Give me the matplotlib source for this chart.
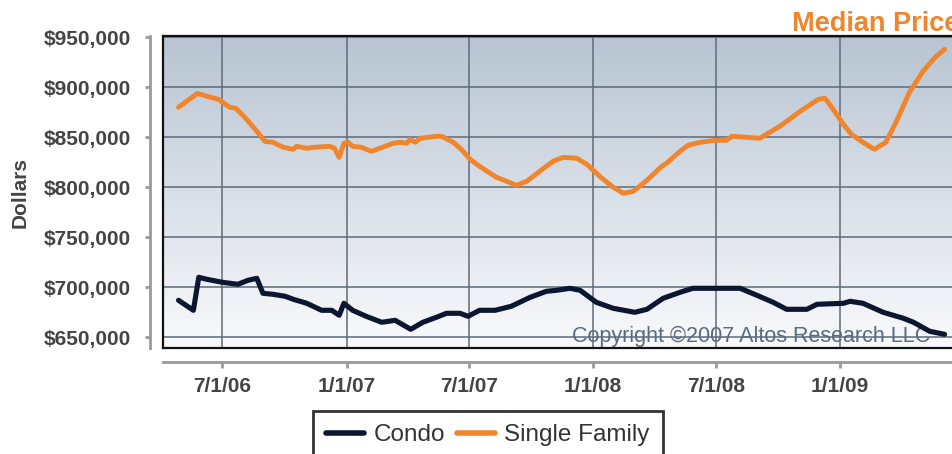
import numpy as np
import pandas as pd
import matplotlib
matplotlib.use("Agg")
import matplotlib.pyplot as plt
from matplotlib.lines import Line2D

# ---------------- data ----------------
sf_dates = ["2006-04-27", "2006-05-09", "2006-05-25", "2006-06-08", "2006-06-25", "2006-07-12",
            "2006-07-21", "2006-08-06", "2006-08-21", "2006-09-02", "2006-09-14", "2006-09-29",
            "2006-10-14", "2006-10-19", "2006-11-03", "2006-11-13", "2006-12-07", "2006-12-14",
            "2006-12-21", "2006-12-28", "2007-01-03", "2007-01-10", "2007-01-23", "2007-02-07",
            "2007-02-19", "2007-03-11", "2007-03-21", "2007-03-31", "2007-04-05", "2007-04-13",
            "2007-04-20", "2007-05-14", "2007-05-22", "2007-06-08", "2007-06-20", "2007-07-03",
            "2007-07-17", "2007-08-11", "2007-08-26", "2007-09-10", "2007-09-25", "2007-10-14",
            "2007-11-03", "2007-11-18", "2007-12-08", "2007-12-23", "2008-01-11", "2008-01-31",
            "2008-02-15", "2008-03-01", "2008-03-21", "2008-04-12", "2008-04-19", "2008-05-09",
            "2008-05-21", "2008-06-08", "2008-06-30", "2008-07-17", "2008-07-25", "2008-08-16",
            "2008-09-04", "2008-10-04", "2008-11-03", "2008-11-30", "2008-12-10", "2008-12-22",
            "2009-01-06", "2009-01-18", "2009-02-04", "2009-02-21", "2009-03-10", "2009-03-25",
            "2009-04-14", "2009-05-04", "2009-05-22", "2009-06-05"]
sf_values = [880, 886, 894, 891, 888, 880,
             879, 868, 856, 846, 845, 840,
             838, 841, 839, 840, 841, 839,
             830, 844, 845, 841, 840, 836,
             839, 844, 845, 844, 848, 845,
             849, 851, 851, 845, 838, 828,
             821, 810, 806, 802, 806, 816,
             826, 830, 829, 823, 811, 800,
             794, 796, 807, 821, 824, 836,
             842, 845, 847, 847, 851, 850,
             849, 861, 876, 888, 889, 878,
             863, 853, 845, 838, 845, 865,
             895, 916, 930, 938]

condo_dates = ["2006-04-27", "2006-05-19", "2006-05-27", "2006-06-08", "2006-07-01", "2006-07-24",
               "2006-08-08", "2006-08-21", "2006-08-30", "2006-09-14", "2006-10-02", "2006-10-14",
               "2006-11-03", "2006-11-25", "2006-12-10", "2006-12-21", "2006-12-28", "2007-01-10",
               "2007-01-30", "2007-02-22", "2007-03-14", "2007-04-06", "2007-04-24", "2007-05-14",
               "2007-05-29", "2007-06-18", "2007-06-30", "2007-07-17", "2007-08-09", "2007-09-02",
               "2007-09-30", "2007-10-24", "2007-11-08", "2007-11-28", "2007-12-13", "2008-01-06",
               "2008-01-31", "2008-03-03", "2008-03-21", "2008-04-14", "2008-05-09", "2008-05-28",
               "2008-08-06", "2008-08-31", "2008-09-24", "2008-10-14", "2008-11-13", "2008-11-28",
               "2009-01-06", "2009-01-16", "2009-02-04", "2009-03-06", "2009-04-05", "2009-04-20",
               "2009-05-14", "2009-06-05"]
condo_values = [687, 677, 710, 708, 705, 703,
                707, 709, 694, 693, 691, 688,
                684, 677, 677, 672, 684, 677,
                671, 665, 667, 658, 665, 670,
                674, 674, 671, 677, 677, 681,
                690, 696, 697, 699, 697, 685,
                679, 675, 678, 689, 695, 699,
                699, 692, 685, 678, 678, 683,
                684, 686, 684, 675, 669, 665,
                656, 653]

tick_dates = ["2006-07-01", "2007-01-01", "2007-07-01", "2008-01-01", "2008-07-01", "2009-01-01"]
tick_labels = ["7/1/06", "1/1/07", "7/1/07", "1/1/08", "7/1/08", "1/1/09"]
y_ticks = [650000, 700000, 750000, 800000, 850000, 900000, 950000]
y_tick_labels = ["$650,000", "$700,000", "$750,000", "$800,000", "$850,000", "$900,000", "$950,000"]
series_names = ["Condo", "Single Family"]
title_text = "Median Price"
ylabel_text = "Dollars"
copyright_text = "Copyright \u00a92007 Altos Research LLC"

# ---------------- style ----------------
W, H = 952, 454
ORANGE = "#f0852b"
NAVY = "#0b1731"
GRID = "#5d6b7b"
TXT = "#444444"
AX_GRAY = "#9a9a9a"
PX = 0.72  # points per pixel at dpi 100

plt.rcParams['font.family'] = ['Liberation Sans', 'DejaVu Sans']

fig = plt.figure(figsize=(W / 100, H / 100), dpi=100)
left, right, top, bottom = 163, 952, 36, 348
ax = fig.add_axes([left / W, 1 - bottom / H, (right - left) / W, (bottom - top) / H])

sf_x = pd.to_datetime(sf_dates)
condo_x = pd.to_datetime(condo_dates)
sf_y = np.array(sf_values) * 1000
condo_y = np.array(condo_values) * 1000

ax.set_xlim(pd.Timestamp("2006-04-04"), pd.Timestamp("2009-06-16"))
ax.set_ylim(639300, 951300)

# gradient background
grad = np.linspace(0, 1, 256).reshape(-1, 1)
top_c = np.array([184, 196, 210]) / 255
bot_c = np.array([249, 250, 252]) / 255
img = top_c[None, None, :] * (1 - grad[:, :, None]) + bot_c[None, None, :] * grad[:, :, None]
ax.imshow(img, extent=[0, 1, 0, 1], transform=ax.transAxes, aspect='auto', zorder=0)

# grid
ax.set_axisbelow(False)
ax.xaxis.grid(True, color=GRID, lw=1.1, zorder=1)
ax.yaxis.grid(True, color=GRID, lw=1.1, zorder=1)

# copyright
ax.text((930 - left) / (right - left), (bottom - 342) / (bottom - top), copyright_text,
        transform=ax.transAxes, ha='right', va='baseline', fontsize=15.5,
        color="#5b6a7e", zorder=2)

# lines
ax.plot(condo_x, condo_y, color=NAVY, lw=3.7, solid_capstyle='round', solid_joinstyle='round',
        zorder=3, label=series_names[0])
ax.plot(sf_x, sf_y, color=ORANGE, lw=3.5, solid_capstyle='round', solid_joinstyle='round',
        zorder=3, label=series_names[1])

# black plot-area border (top, left, bottom)
for xs, ys in [([0, 1], [1, 1]), ([0, 0], [0, 1]), ([0, 1], [0, 0])]:
    ax.add_line(Line2D(xs, ys, transform=ax.transAxes, color="#111111", lw=1.6,
                       clip_on=False, zorder=5))

# spines / axes
for s in ["top", "right"]:
    ax.spines[s].set_visible(False)
ax.spines["left"].set_position(('outward', 13 * PX))
ax.spines["bottom"].set_position(('outward', 13.7 * PX))
for s in ["left", "bottom"]:
    ax.spines[s].set_color(AX_GRAY)
    ax.spines[s].set_linewidth(2.0)

ax.set_yticks(y_ticks)
ax.set_yticklabels(y_tick_labels)
ax.set_xticks(pd.to_datetime(tick_dates))
ax.set_xticklabels(tick_labels)
ax.tick_params(axis='y', length=5 * PX, width=2.0, color=AX_GRAY, pad=14 * PX,
               labelsize=15, labelcolor=TXT)
ax.tick_params(axis='x', length=5.5 * PX, width=2.0, color=AX_GRAY, pad=9.5 * PX,
               labelsize=15, labelcolor=TXT)
for lab in ax.get_xticklabels() + ax.get_yticklabels():
    lab.set_fontweight('bold')

# y label
fig.text(20 / W, 1 - 193 / H, ylabel_text, rotation=90, ha='center', va='center',
         fontsize=15, fontweight='bold', color=TXT)

# title
fig.text(791.5 / W, 1 - 31 / H, title_text, ha='left', va='baseline',
         fontsize=19.5, fontweight='bold', color=ORANGE)

# legend
leg = fig.legend(loc='upper left', bbox_to_anchor=(312.5 / W, 1 - 411 / H), ncol=2,
                 frameon=True, fancybox=False, edgecolor='black', fontsize=17.5,
                 handlelength=1.55, handletextpad=0.4, columnspacing=0.5,
                 borderpad=0.55, borderaxespad=0)
leg.get_frame().set_linewidth(2.0)
for t in leg.get_texts():
    t.set_color("#333333")
for lh in leg.get_lines():
    lh.set_linewidth(4.0)

fig.savefig("out.png", dpi=100)
